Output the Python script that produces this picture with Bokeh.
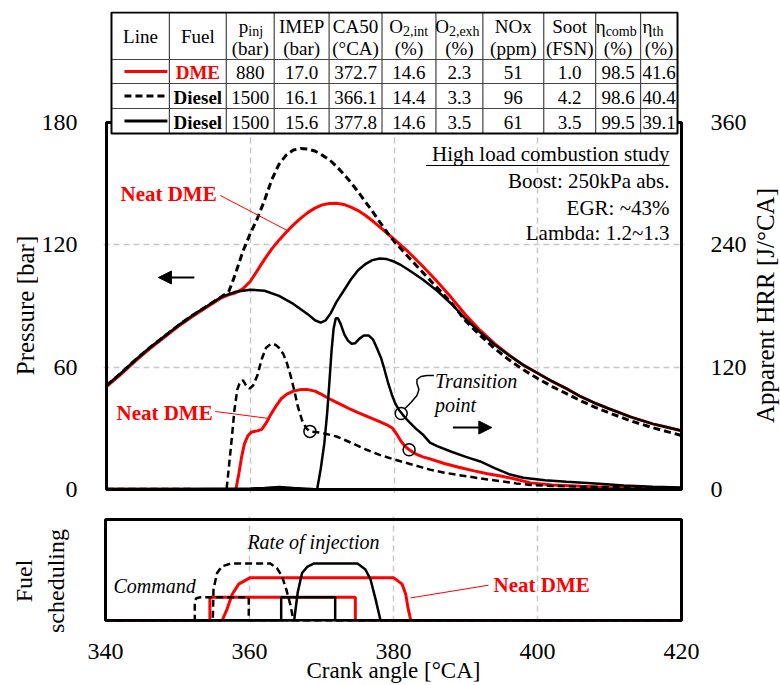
import numpy as np
from bokeh.plotting import figure
from bokeh.models import Range1d, LinearAxis, FixedTicker, Arrow, NormalHead
from bokeh.layouts import column, row
from bokeh.embed import file_html
from bokeh.resources import INLINE
from bokeh.core.properties import value

FONT = "Liberation Serif"
RED = "#ff0000"
GRID = "#c8c8c8"

# ---------------- data ----------------
# Cylinder pressure [bar] vs crank angle [°CA]
ca_dme_p = [340, 342, 344, 346, 348, 350, 352, 354, 356, 357, 358, 359, 360, 361, 362, 363, 364, 365, 366, 367,
            368, 369, 370, 371, 372, 373, 374, 375, 376, 377, 378, 379, 380, 382, 384, 386, 388, 390, 392, 394,
            396, 398, 400, 402, 404, 406, 408, 410, 413, 416, 418, 420]
p_dme = [50.5, 56.5, 63, 69, 74.5, 80, 85, 89.5, 94, 95.5, 96.5, 98.5, 102, 107.5, 113, 118, 122.3, 126.2, 129.8, 133,
         135.8, 138, 139.6, 140.3, 140.4, 139.8, 138.5, 136.8, 134.5, 131.8, 128.8, 125.8, 122.8, 116.5, 109.5, 102, 94,
         85.5, 78, 71.5, 66, 61, 57, 53, 49.5, 45.5, 42.3, 39.5, 35.5, 32.2, 30.5, 28.8]

ca_de_p = [340, 342, 344, 346, 348, 350, 352, 354, 356, 356.5, 357, 357.5, 358, 359, 360, 361, 362, 363, 364, 365,
           366, 367, 368, 369, 370, 371, 372, 373, 374, 375, 376, 377, 378, 379, 380, 382, 384, 386, 388, 390,
           392, 394, 396, 398, 400, 402, 404, 406, 408, 410, 413, 416, 418, 420]
p_de = [51, 57, 63.5, 69.5, 75, 80.5, 85.5, 90, 94.5, 95.8, 97, 101.5, 106.5, 117, 125.5, 133, 142, 152, 159.5, 164,
        166.5, 167.3, 167, 166, 164, 161.8, 158.5, 154.7, 150.6, 146, 141.2, 136.4, 131.3, 126.3, 121.8, 114, 106.5,
        99, 91.5, 82.5, 75.5, 69.2, 63.6, 58.7, 54.4, 50.5, 47, 43.5, 40.3, 37.5, 33.6, 30.3, 28.4, 26.5]

ca_dl_p = [340, 342, 344, 346, 348, 350, 352, 354, 356, 358, 360, 362, 364, 366, 368, 369, 369.8, 370.5, 371.2, 372,
           373, 374, 375, 376, 377, 378, 379, 380, 381, 382, 384, 386, 388, 390, 392, 394, 396, 398, 400, 402,
           404, 406, 408, 410, 413, 416, 418, 420]
p_dl = [51, 57, 63.5, 69.5, 75, 80.5, 85.5, 90, 94.5, 97, 98, 97.5, 95, 91, 86, 83, 81.8, 83, 86.5, 92,
        97.5, 103, 107.5, 110.5, 112.5, 113.3, 113, 111.8, 110, 107.8, 103, 97.5, 91, 83.5, 77, 71, 65.8, 61, 57, 53,
        49.5, 45.5, 42.3, 39.5, 35.5, 32.2, 30.5, 28.8]

# Apparent heat release rate [J/°CA]
ca_dme_h = [340, 350, 358.0, 358.4, 358.8, 359.2, 359.7, 360.2, 361.0, 361.6, 362.2, 362.9, 363.6, 364.3, 365.1,
            366, 367, 368, 369, 370, 371, 372, 373, 374, 375, 376, 377, 378, 379, 379.8, 380.4, 381, 381.6, 382.1,
            383, 384, 385, 387, 389, 391, 393, 395, 397, 399, 402, 406, 410, 415, 420]
h_dme = [0.3, 0.3, 0, 15, 32, 45, 53, 56.5, 57.5, 59, 65, 74, 82, 89, 93.5,
         96.5, 98, 98, 96.5, 93, 89, 85.5, 82, 78.5, 75.5, 72.5, 69.5, 66.5, 63.5, 60, 54, 47, 42, 39,
         35, 32, 30, 25.5, 21.8, 18.5, 15.5, 13, 10, 6.5, 4.5, 3.2, 2, 1.3, 1]

ca_de_h = [340, 350, 356.7, 357.0, 357.4, 357.8, 358.2, 358.6, 359.0, 359.5, 359.9, 360.4, 361.0, 361.6, 362.2,
           362.9, 363.5, 364.0, 364.6, 365.1, 365.6, 366.1, 366.6, 367.2, 367.8, 368.3, 369, 370, 372, 374, 376,
           378, 380, 382, 384, 385, 387, 389, 391, 393, 395, 397, 399, 402, 406, 410, 415, 420]
h_de = [0.5, 0.5, 0, 20, 48, 78, 98, 106, 107, 101, 99, 102, 112, 128, 139,
        143, 142, 139, 133, 124, 112, 98, 82, 68, 60, 57, 56.5, 55.5, 52, 46, 39.5,
        34, 29.5, 25.5, 21.5, 19.5, 16.5, 14.2, 12, 9.8, 8, 6, 4.5, 3.5, 2.8, 2.4, 2, 1.8]

ca_dl_h = [340, 350, 360, 362, 364, 366, 368.5, 369.3, 369.8, 370.3, 370.7, 371.0, 371.3, 371.6, 371.9, 372.2,
           372.6, 373.1, 373.6, 374.1, 374.6, 375.2, 375.8, 376.5, 377.1, 377.6, 378.2, 378.7, 379.2, 379.7, 380.2,
           380.7, 381.2, 382, 383, 384, 385, 386, 388, 390, 392, 394, 396, 398, 401, 404, 408, 412, 416, 420]
h_dl = [0.5, 0.5, 1, 1.5, 2.5, 1.5, 0.5, 0, 20, 45, 75, 104, 135, 158, 168, 168,
        162, 152, 146, 143, 143.5, 148, 151, 151, 147, 139, 129, 117, 104, 93, 84,
        78, 73.5, 67, 60, 54, 46, 42.5, 37, 32, 27.5, 21, 15, 11.5, 9, 7.5, 5.9, 4, 2.6, 2]

# Transition points (°CA, J/°CA)
trans_ca = [368.3, 381.0, 382.1]
trans_hrr = [57, 74.5, 39]

# Fuel scheduling (arbitrary units, 0-100 of panel height)
cmd_de_x = [340, 352.4, 352.4, 352.6, 353.2, 359.9, 359.9, 420]
cmd_de_y = [0, 0, 19, 22, 23, 23, 0, 0]
cmd_dme_x = [340, 354.5, 354.5, 374.7, 374.7, 420]
cmd_dme_y = [0, 0, 23, 23, 0, 0]
cmd_dl_x = [340, 364.4, 364.4, 371.9, 371.9, 420]
cmd_dl_y = [0, 0, 23, 23, 0, 0]
roi_de_x = [340, 354.9, 355.0, 355.5, 356.2, 357.4, 362.9, 363.8, 364.5, 365.1, 365.7, 366.1, 420]
roi_de_y = [0, 0, 31, 47, 53.7, 56.3, 56.3, 52, 44, 31, 15, 0, 0]
roi_dme_x = [340, 356.2, 356.9, 357.6, 358.5, 360.1, 380, 381.2, 381.7, 382, 382.4, 420]
roi_dme_y = [0, 0, 11.6, 26, 36, 42.4, 42.4, 36, 26, 13, 0, 0]
roi_dl_x = [340, 366.2, 366.7, 367.3, 368, 368.9, 375, 376.1, 376.8, 377.5, 378.2, 420]
roi_dl_y = [0, 0, 28, 47, 53, 56.3, 56.3, 50.5, 40.8, 21.4, 0, 0]

# Table
tbl_fuel = ["DME", "Diesel", "Diesel"]
tbl_fuel_color = [RED, "black", "black"]
tbl_pinj = ["880", "1500", "1500"]
tbl_imep = ["17.0", "16.1", "15.6"]
tbl_ca50 = ["372.7", "366.1", "377.8"]
tbl_o2int = ["14.6", "14.4", "14.6"]
tbl_o2exh = ["2.3", "3.3", "3.5"]
tbl_nox = ["51", "96", "61"]
tbl_soot = ["1.0", "4.2", "3.5"]
tbl_etacomb = ["98.5", "98.6", "99.5"]
tbl_etath = ["41.6", "40.4", "39.1"]
tbl_units = ["(bar)", "(bar)", "(°CA)", "(%)", "(%)", "(ppm)", "(FSN)", "(%)", "(%)"]

x_ticks = [340, 360, 380, 400, 420]
p_ticks = [0, 60, 120, 180]
h_ticks = [0, 120, 240, 360]

# ---------------- layout helpers (page pixel -> data) ----------------
XS = 7.2              # px per °CA
YS = 367.0 / 180.0    # px per bar
PAD_X = 3.0 / XS
X_START, X_END = 340 - PAD_X, 420 + PAD_X
H1 = 505              # height of top row
FT, FB = 11, 493      # frame top / bottom of top row (page px)
LW1, RW1 = 38, 28     # side strips of top row


def px_x(px):
    return 340 + (px - 105) / XS


def px_y(py):
    return (489 - py) / YS


P_TOP = px_y(FT)
P_BOT = px_y(FB)


def style_axis(ax):
    ax.axis_line_color = None
    ax.major_tick_line_color = None
    ax.minor_tick_line_color = None
    ax.major_label_text_font = FONT
    ax.major_label_text_font_size = "24px"
    ax.major_label_text_color = "black"
    ax.axis_label_text_font = FONT
    ax.axis_label_text_font_size = "23px"
    ax.axis_label_text_font_style = "normal"
    ax.axis_label_text_color = "black"


def ptext(fig, x, y, text, size="20px", style="normal", color="black", align="left", angle=0.0):
    fig.text(x=x, y=y, text=text, text_font=value(FONT), text_font_size=size, text_font_style=style,
             text_color=color, text_align=align, text_baseline="middle", angle=angle)


def strip(width, x0):
    # blank side panel; its frame has the same vertical extent as the main frame,
    # and its data coordinates are page pixels (y negated so it grows upward)
    s = figure(width=width, height=H1, x_range=Range1d(x0, x0 + width), y_range=Range1d(-FB, -FT),
               output_backend="svg", toolbar_location=None, title=None, x_axis_location=None,
               y_axis_location=None, min_border_left=0, min_border_right=0,
               min_border_top=FT, min_border_bottom=H1 - FB)
    s.outline_line_color = None
    s.grid.visible = False
    s.background_fill_color = "white"
    s.border_fill_color = "white"
    return s


# ---------------- main figure ----------------
p = figure(width=780 - LW1 - RW1, height=H1, x_range=Range1d(X_START, X_END), y_range=Range1d(P_BOT, P_TOP),
           output_backend="svg", toolbar_location=None, title=None, x_axis_location=None,
           min_border_left=102 - LW1, min_border_right=780 - RW1 - 684, min_border_top=FT,
           min_border_bottom=H1 - FB)
p.extra_y_ranges = {"hrr": Range1d(2 * P_BOT, 2 * P_TOP)}
p.outline_line_color = None
p.background_fill_color = "white"
p.border_fill_color = "white"

lax = p.yaxis[0]
lax.ticker = FixedTicker(ticks=p_ticks)
lax.major_label_standoff = 20
style_axis(lax)

rax = LinearAxis(y_range_name="hrr", ticker=FixedTicker(ticks=h_ticks), major_label_standoff=20)
style_axis(rax)
p.add_layout(rax, "right")

p.xgrid.ticker = FixedTicker(ticks=[360, 380, 400])
p.ygrid.ticker = FixedTicker(ticks=[60, 120])
for g in (p.xgrid[0], p.ygrid[0]):
    g.grid_line_color = GRID
    g.grid_line_dash = "6 4"
    g.grid_line_width = 1.5

# pressure traces
p.line(ca_dme_p, p_dme, line_color=RED, line_width=3)
p.line(ca_de_p, p_de, line_color="black", line_width=3, line_dash="7 4")
p.line(ca_dl_p, p_dl, line_color="black", line_width=2.5)
# HRR traces
p.line(ca_dme_h, h_dme, line_color=RED, line_width=3, y_range_name="hrr")
p.line(ca_de_h, h_de, line_color="black", line_width=2.5, line_dash="7 4", y_range_name="hrr")
p.line(ca_dl_h, h_dl, line_color="black", line_width=2.5, y_range_name="hrr")
p.scatter(trans_ca, trans_hrr, marker="circle", size=12, fill_color=None, line_color="black",
          line_width=1.5, y_range_name="hrr")

# plot frame
p.quad(left=[340], right=[420], bottom=[0], top=[180], fill_color=None, line_color="black", line_width=3)

# leader lines
p.line([px_x(219), px_x(288)], [px_y(195), px_y(231)], line_color=RED, line_width=1)
p.line([px_x(214), px_x(268)], [px_y(411), px_y(418)], line_color=RED, line_width=1)
lead_px = [(404, 408), (410, 402), (416, 395), (418, 389), (416, 383), (416, 379), (420, 376), (426, 375), (433, 375)]
p.line([px_x(a) for a, b in lead_px], [px_y(b) for a, b in lead_px], line_color="black", line_width=1.5)

# arrows
p.add_layout(Arrow(end=NormalHead(size=13, fill_color="black", line_color="black"),
                   x_start=px_x(193), y_start=px_y(277), x_end=px_x(157), y_end=px_y(277),
                   line_width=2, line_color="black"))
p.add_layout(Arrow(end=NormalHead(size=13, fill_color="black", line_color="black"),
                   x_start=px_x(452), y_start=px_y(427), x_end=px_x(491), y_end=px_y(427),
                   line_width=2, line_color="black"))

# annotations in the plot
ptext(p, [px_x(119)], [px_y(193)], ["Neat DME"], "21px", "bold", RED)
ptext(p, [px_x(115)], [px_y(412)], ["Neat DME"], "21px", "bold", RED)
ptext(p, [px_x(434), px_x(434)], [px_y(380), px_y(404)], ["Transition", "point"], "20px", "italic")
ptext(p, [px_x(669)] * 4, [px_y(153), px_y(180), px_y(207), px_y(232)],
      ["High load combustion study", "Boost: 250kPa abs.", "EGR: ~43%", "Lambda: 1.2~1.3"],
      "21px", "normal", "black", "right")
p.line([px_x(425), px_x(669)], [px_y(165), px_y(165)], line_color="black", line_width=1.2)

# ---------------- table ----------------
TC = [110, 168, 225, 273, 328, 381, 435, 482, 543, 595, 640, 677]
TR = [12, 59, 83, 108, 133]
cc = [(TC[i] + TC[i + 1]) / 2 for i in range(len(TC) - 1)]
rr = [72, 96.5, 121.5]

p.quad(left=[px_x(TC[0])], right=[px_x(TC[-1])], top=[px_y(TR[0])], bottom=[px_y(TR[-1])],
       fill_color="white", line_color=None)
p.segment(x0=[px_x(c) for c in TC[1:-1]], y0=[px_y(TR[0])] * (len(TC) - 2),
          x1=[px_x(c) for c in TC[1:-1]], y1=[px_y(TR[-1])] * (len(TC) - 2),
          line_color="#444444", line_width=1.2)
p.segment(x0=[px_x(TC[0])] * 3, y0=[px_y(r) for r in TR[1:-1]],
          x1=[px_x(TC[-1])] * 3, y1=[px_y(r) for r in TR[1:-1]],
          line_color="#444444", line_width=1.2)
p.quad(left=[px_x(TC[0])], right=[px_x(TC[-1])], top=[px_y(TR[0])], bottom=[px_y(TR[-1])],
       fill_color=None, line_color="black", line_width=2)

TS = "19px"
ptext(p, [px_x(cc[0]), px_x(cc[1])], [px_y(36)] * 2, ["Line", "Fuel"], TS, align="center")
ptext(p, [px_x(cc[3]), px_x(cc[4]), px_x(cc[7]), px_x(cc[8])], [px_y(26)] * 4,
      ["IMEP", "CA50", "NOx", "Soot"], TS, align="center")
subs = [("p", "inj", 247), ("O", "2,int", 402), ("O", "2,exh", 448), ("η", "comb", 605), ("η", "th", 652)]
ptext(p, [px_x(s[2]) for s in subs], [px_y(26)] * len(subs), [s[0] for s in subs], TS, align="right")
ptext(p, [px_x(s[2]) for s in subs], [px_y(31)] * len(subs), [s[1] for s in subs], "14px", align="left")
ptext(p, [px_x(c) for c in cc[2:]], [px_y(48)] * len(tbl_units), tbl_units, TS, align="center")

p.text(x=[px_x(cc[1])] * 3, y=[px_y(r) for r in rr], text=tbl_fuel, text_color=tbl_fuel_color,
       text_font=value(FONT), text_font_size=TS, text_font_style="bold", text_align="center",
       text_baseline="middle")
cols = [tbl_pinj, tbl_imep, tbl_ca50, tbl_o2int, tbl_o2exh, tbl_nox, tbl_soot, tbl_etacomb, tbl_etath]
for ci, vals in enumerate(cols):
    ptext(p, [px_x(cc[ci + 2])] * 3, [px_y(r) for r in rr], vals, TS, align="center")
# line samples
p.line([px_x(123), px_x(166)], [px_y(71)] * 2, line_color=RED, line_width=3)
p.line([px_x(123), px_x(166)], [px_y(95.5)] * 2, line_color="black", line_width=3, line_dash="7 4")
p.line([px_x(123), px_x(166)], [px_y(120.5)] * 2, line_color="black", line_width=3)

# axis titles of the top panel (side strips)
sl = strip(LW1, 0)
ptext(sl, [25], [-305], ["Pressure [bar]"], "25px", align="center", angle=np.pi / 2)
sr = strip(RW1, 780 - RW1)
ptext(sr, [765], [-305], ["Apparent HRR [J/°CA]"], "25px", align="center", angle=np.pi / 2)

# ---------------- fuel scheduling panel ----------------
BS = 1.03


def px_b(py):
    return (622 - py) / BS


q = figure(width=780, height=685 - H1, x_range=Range1d(X_START, X_END), y_range=Range1d(px_b(623), px_b(516)),
           output_backend="svg", toolbar_location=None, title=None,
           min_border_left=102, min_border_right=780 - 684, min_border_top=516 - H1, min_border_bottom=62)
q.outline_line_color = None
q.background_fill_color = "white"
q.border_fill_color = "white"

qx = q.xaxis[0]
qx.ticker = FixedTicker(ticks=x_ticks)
qx.major_label_standoff = 16
qx.axis_label = "Crank angle [°CA]"
qx.axis_label_standoff = -4
style_axis(qx)

NB = "\u00a0" * 4   # keeps the two-line title a little below the panel centre, as in the original
qy = q.yaxis[0]
qy.ticker = FixedTicker(ticks=[])
qy.axis_label = "Fuel" + NB + "\nscheduling" + NB
qy.axis_label_standoff = 34
style_axis(qy)
qy.axis_label_text_font_size = "24px"

q.ygrid.visible = False
q.xgrid.ticker = FixedTicker(ticks=[360, 380, 400])
q.xgrid.grid_line_color = GRID
q.xgrid.grid_line_dash = "6 4"
q.xgrid.grid_line_width = 1.5

q.line(cmd_dme_x, cmd_dme_y, line_color=RED, line_width=3)
q.line(roi_dme_x, roi_dme_y, line_color=RED, line_width=3)
q.line(cmd_de_x, cmd_de_y, line_color="black", line_width=2.5, line_dash="7 4")
q.line(roi_de_x, roi_de_y, line_color="black", line_width=2.5, line_dash="7 4")
q.line(cmd_dl_x, cmd_dl_y, line_color="black", line_width=2.5)
q.line(roi_dl_x, roi_dl_y, line_color="black", line_width=2.5)
q.quad(left=[340], right=[420], bottom=[0], top=[100], fill_color=None, line_color="black", line_width=3)

q.line([px_x(488), px_x(410)], [px_b(586), px_b(599)], line_color=RED, line_width=1)
ptext(q, [px_x(493)], [px_b(586)], ["Neat DME"], "21px", "bold", RED)
ptext(q, [px_x(313)], [px_b(542)], ["Rate of injection"], "20px", "italic", "black", "center")
ptext(q, [px_x(113)], [px_b(587)], ["Command"], "20px", "italic")

layout = column(row(sl, p, sr, spacing=0), q, spacing=0)
open("out.html", "w").write(file_html(layout, INLINE))
